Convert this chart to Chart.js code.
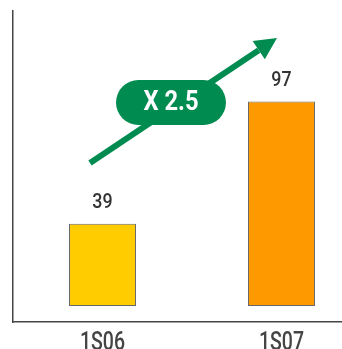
<!DOCTYPE html>
<html>
<head>
<meta charset="utf-8">
<script src="https://cdn.jsdelivr.net/npm/chart.js@4"></script>
<style>
  html, body { margin: 0; padding: 0; background: #fff; overflow: hidden; }
  #wrap { width: 342px; height: 349px; overflow: hidden; }
</style>
</head>
<body>
<div id="wrap"><canvas id="growthChart" width="371" height="349"></canvas></div>
<script>
// half-year results
const periods = ["1S06", "1S07"];
const values = [39, 97];
const barColors = ["#FFCC00", "#FF9900"];
const growthLabel = "X 2.5";

const FONT = 'Roboto, "Liberation Sans", sans-serif';

// draw text squeezed horizontally (condensed look)
function narrowText(ctx, text, x, y, sx) {
  ctx.save();
  ctx.translate(x, y);
  ctx.scale(sx, 1);
  ctx.fillText(text, 0, 0);
  ctx.restore();
}

// value labels above bars + category labels under the axis
const barLabels = {
  id: "barLabels",
  afterDatasetsDraw(chart) {
    const ctx = chart.ctx;
    const meta = chart.getDatasetMeta(0);
    const bottom = chart.chartArea.bottom;
    ctx.save();
    ctx.textAlign = "center";
    ctx.textBaseline = "alphabetic";
    meta.data.forEach((bar, i) => {
      ctx.font = "500 21px " + FONT;
      ctx.fillStyle = "#333";
      narrowText(ctx, String(values[i]), bar.x, bar.y - 16, 0.85);
      ctx.font = "500 26px " + FONT;
      ctx.fillStyle = "#444";
      narrowText(ctx, periods[i], bar.x, bottom + 28, 0.75);
    });
    ctx.restore();
  }
};

// green growth arrow with the ratio badge
const growthArrow = {
  id: "growthArrow",
  afterDatasetsDraw(chart) {
    const ctx = chart.ctx;
    const green = "#008C50";
    const x1 = 90, y1 = 163, x2 = 277, y2 = 38;
    const ang = Math.atan2(y2 - y1, x2 - x1);
    const head = 22, half = 11;
    const bx = x2 - head * Math.cos(ang), by = y2 - head * Math.sin(ang);

    ctx.save();
    ctx.strokeStyle = green;
    ctx.lineWidth = 6;
    ctx.beginPath();
    ctx.moveTo(x1, y1);
    ctx.lineTo(bx, by);
    ctx.stroke();

    ctx.fillStyle = green;
    ctx.beginPath();
    ctx.moveTo(x2, y2);
    ctx.lineTo(bx + half * Math.sin(ang), by - half * Math.cos(ang));
    ctx.lineTo(bx - half * Math.sin(ang), by + half * Math.cos(ang));
    ctx.closePath();
    ctx.fill();

    // pill badge
    const px = 116, py = 80, pw = 110, ph = 45, r = ph / 2;
    ctx.beginPath();
    ctx.moveTo(px + r, py);
    ctx.lineTo(px + pw - r, py);
    ctx.arc(px + pw - r, py + r, r, -Math.PI / 2, Math.PI / 2);
    ctx.lineTo(px + r, py + ph);
    ctx.arc(px + r, py + r, r, Math.PI / 2, Math.PI * 1.5);
    ctx.closePath();
    ctx.fill();

    ctx.fillStyle = "#fff";
    ctx.font = "bold 27px " + FONT;
    ctx.textAlign = "center";
    ctx.textBaseline = "middle";
    narrowText(ctx, growthLabel, px + pw / 2, py + ph / 2 + 1, 0.88);
    ctx.restore();
  }
};

const ctx = document.getElementById("growthChart").getContext("2d");
new Chart(ctx, {
  type: "bar",
  data: {
    labels: periods,
    datasets: [{
      data: values,
      backgroundColor: barColors,
      borderColor: "#666",
      borderWidth: 1,
      borderSkipped: false,
      barPercentage: 0.374,
      categoryPercentage: 1
    }]
  },
  options: {
    responsive: false,
    animation: false,
    layout: { padding: { left: 13, top: 11, right: 0, bottom: 27 } },
    plugins: { legend: { display: false }, tooltip: { enabled: false } },
    scales: {
      x: {
        grid: { display: false, drawTicks: false },
        border: { display: true, color: "#444", width: 1.5 },
        ticks: { display: false }
      },
      y: {
        min: -7.6,
        max: 140,
        grid: { display: false, drawTicks: false },
        border: { display: true, color: "#444", width: 1.5 },
        ticks: { display: false }
      }
    }
  },
  plugins: [barLabels, growthArrow]
});
</script>
</body>
</html>
